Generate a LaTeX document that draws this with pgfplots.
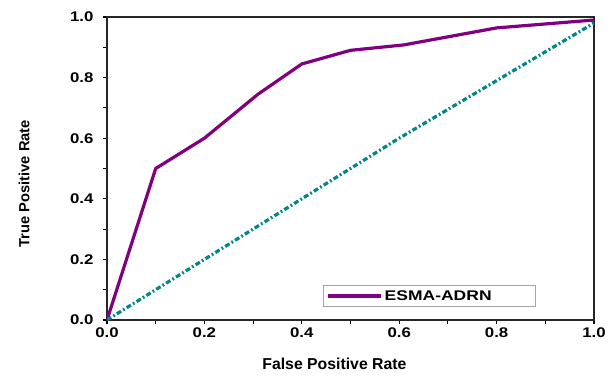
\documentclass[border=0pt]{standalone}
\usepackage{fontspec}
\setmainfont{Liberation Sans}
\newfontfamily\widefont[FakeStretch=1.2]{Liberation Sans}
\newfontfamily\legfont[FakeStretch=1.25]{Liberation Sans}
\usepackage{pgfplots}
\pgfplotsset{compat=1.18}
\definecolor{roc}{RGB}{128,0,128}
\definecolor{diag}{RGB}{0,135,135}
\begin{document}
\begin{tikzpicture}
\begin{axis}[
  scale only axis,
  width=487pt, height=303pt,
  xmin=0, xmax=1, ymin=0, ymax=1,
  axis line style={line width=1.3pt, black!85},
  xtick={0,0.2,...,1.0}, ytick={0,0.2,...,1.0},
  minor xtick={0.1,0.3,0.5,0.7,0.9},
  minor ytick={0.1,0.3,0.5,0.7,0.9},
  tick pos=left, tick align=outside,
  major tick length=4pt, minor tick length=4pt,
  tick style={line width=1.1pt, black},
  /pgf/number format/assume math mode=true,
  /pgf/number format/.cd, fixed, fixed zerofill, precision=1, /pgfplots/.cd,
  ticklabel style={font=\widefont\fontsize{14}{16}\selectfont\bfseries},
  yticklabel style={xshift=-6pt},
  xlabel={False Positive Rate}, ylabel={True Positive Rate},
  xlabel style={font=\fontsize{15.8}{17}\selectfont\bfseries, at={(axis description cs:0.467,-0.145)}, anchor=center},
  ylabel style={font=\fontsize{14.7}{17}\selectfont\bfseries, at={(axis description cs:-0.17,0.45)}, anchor=center},
  legend style={at={(0.444,0.043)}, anchor=south west, draw=black!35, line width=0.6pt,
    font=\legfont\fontsize{14}{16}\selectfont\bfseries, inner xsep=3pt, inner ysep=3pt,
    nodes={text width=146pt}},
  legend image code/.code={\draw[#1] (0pt,0pt) -- (53pt,0pt);},
]
\addplot[roc, line width=3.2pt] coordinates {
  (0,0) (0.1,0.5) (0.2,0.6) (0.31,0.745) (0.4,0.845) (0.5,0.89) (0.61,0.908) (0.8,0.964) (1.0,0.99)
};
\addlegendentry{ESMA-ADRN}
\addplot[diag, line width=3.2pt, dash pattern=on 5pt off 2.4pt on 1.8pt off 2.4pt, forget plot] coordinates {
  (0,0) (0.2,0.2) (0.4,0.4) (0.6,0.6) (0.8,0.79) (1.0,0.98)
};
\end{axis}
\pgfresetboundingbox
\path[use as bounding box] ([xshift=-107pt,yshift=-58pt]current axis.south west) rectangle ([xshift=19pt,yshift=17pt]current axis.north east);
\end{tikzpicture}
\end{document}
